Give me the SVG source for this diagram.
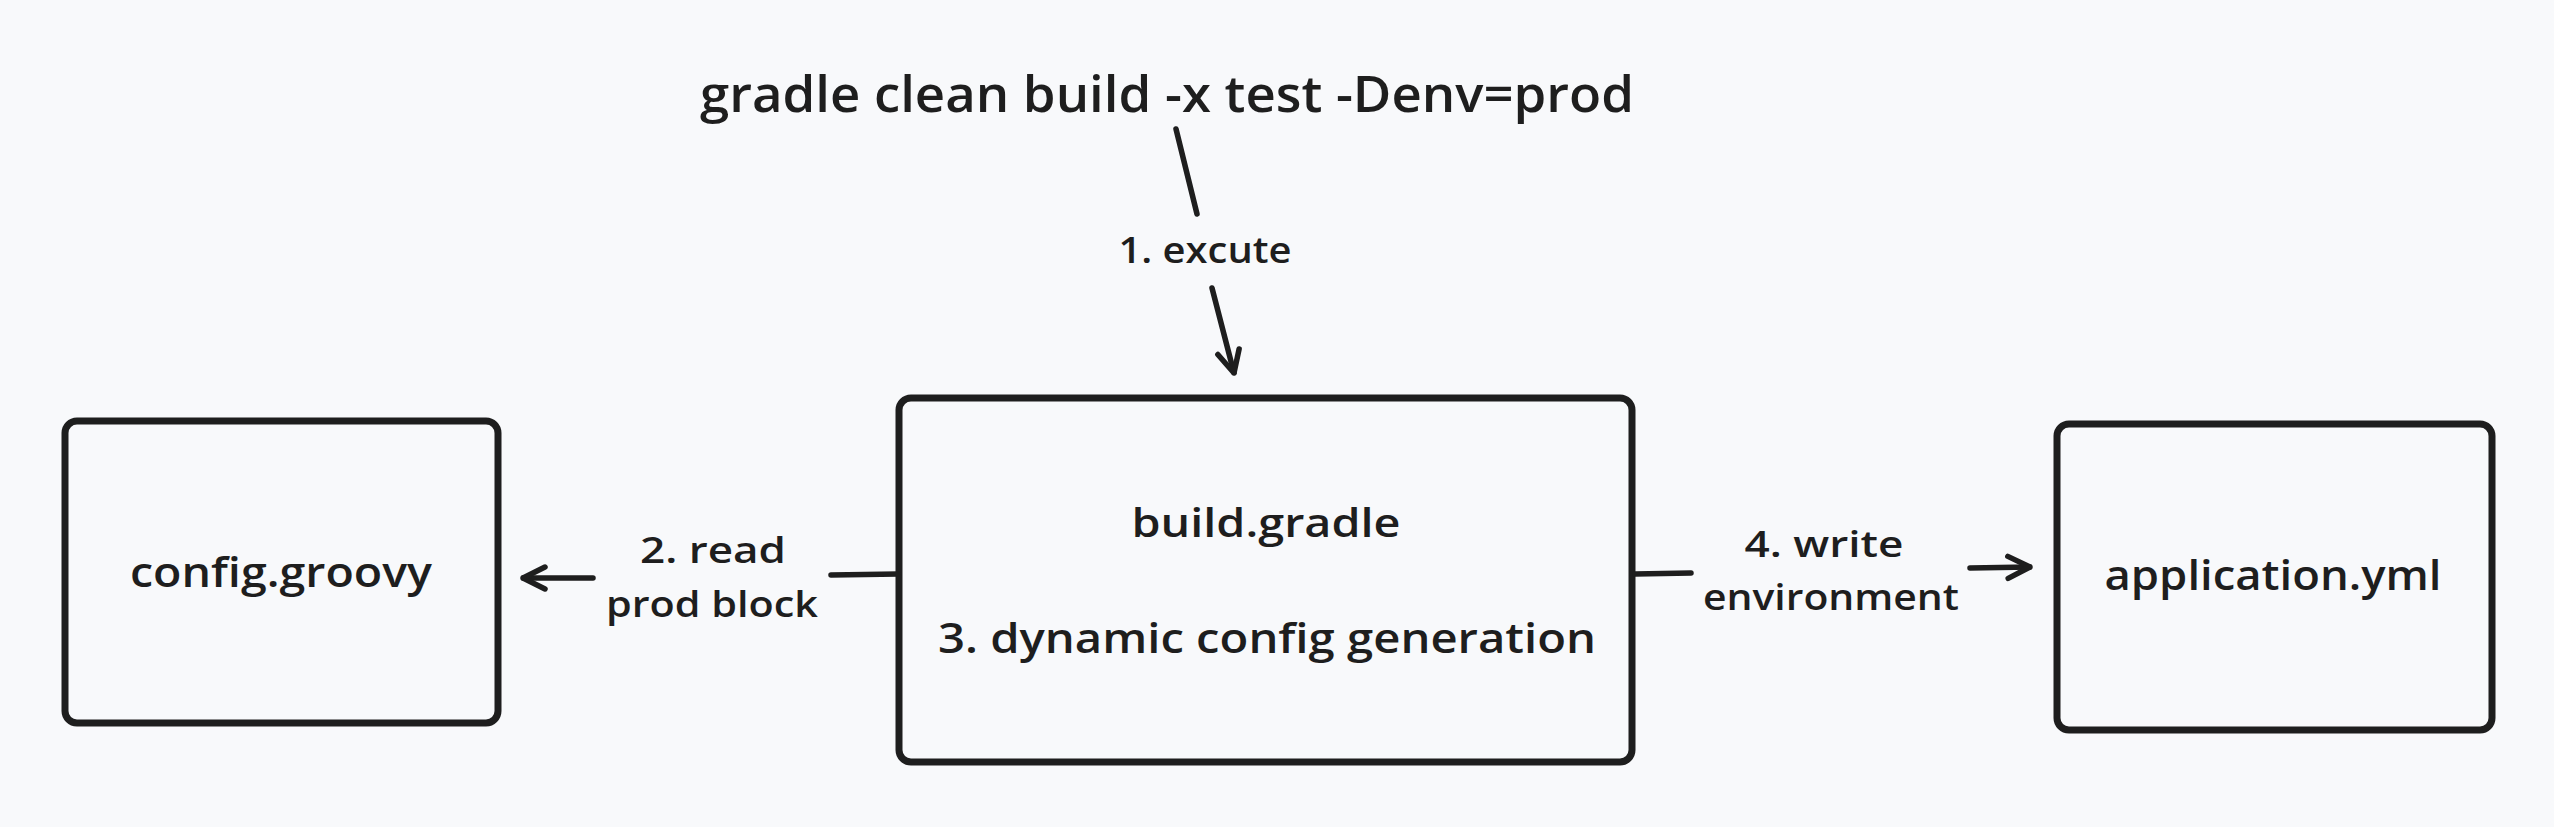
<svg xmlns="http://www.w3.org/2000/svg" width="2554" height="827" viewBox="0 0 2554 827">
<style>
.box{fill:none;stroke:#1e1e1e;stroke-width:7;stroke-linejoin:round}
.ln{fill:none;stroke:#1e1e1e;stroke-width:5.5;stroke-linecap:round}
.t{font-family:"Open Sans","Liberation Sans",sans-serif;font-weight:600;fill:#1e1e1e;text-anchor:middle}
</style>
<defs>
<marker id="ah" viewBox="-30 -15 32 30" markerWidth="32" markerHeight="30" refX="0" refY="0" orient="auto" markerUnits="userSpaceOnUse">
<path d="M-22,-11 L0,0 L-22,11" fill="none" stroke="#1e1e1e" stroke-width="5.5" stroke-linecap="round" stroke-linejoin="round"/>
</marker>
</defs>
<rect width="2554" height="827" fill="#f8f9fb"/>
<g id="cmd">
<text class="t" x="1167" y="112" font-size="50" textLength="934" lengthAdjust="spacingAndGlyphs">gradle clean build -x test -Denv=prod</text>
</g>
<g id="config">
<rect class="box" x="65" y="421" width="433" height="302" rx="12"/>
<text class="t" x="281" y="587" font-size="42" textLength="302" lengthAdjust="spacingAndGlyphs">config.groovy</text>
</g>
<g id="build">
<rect class="box" x="899" y="398" width="733" height="364" rx="12"/>
<text class="t" x="1266" y="537" font-size="40" textLength="269" lengthAdjust="spacingAndGlyphs">build.gradle</text>
<text class="t" x="1267" y="653" font-size="42" textLength="658" lengthAdjust="spacingAndGlyphs">3. dynamic config generation</text>
</g>
<g id="app">
<rect class="box" x="2057" y="424" width="435" height="306" rx="12"/>
<text class="t" x="2273" y="590" font-size="42" textLength="337" lengthAdjust="spacingAndGlyphs">application.yml</text>
</g>
<g id="connectors">
<line class="ln" x1="1176" y1="129" x2="1197" y2="214"/>
<line class="ln" x1="1212" y1="288" x2="1234" y2="373" marker-end="url(#ah)"/>
<text class="t" x="1205" y="263" font-size="36" textLength="173" lengthAdjust="spacingAndGlyphs">1. excute</text>
<line class="ln" x1="898" y1="574" x2="831" y2="575"/>
<line class="ln" x1="593" y1="578" x2="523" y2="578" marker-end="url(#ah)"/>
<text class="t" x="713" y="563" font-size="36" textLength="146" lengthAdjust="spacingAndGlyphs">2. read</text>
<text class="t" x="712" y="617" font-size="36" textLength="212" lengthAdjust="spacingAndGlyphs">prod block</text>
<line class="ln" x1="1635" y1="574" x2="1691" y2="573"/>
<line class="ln" x1="1970" y1="568" x2="2030" y2="567" marker-end="url(#ah)"/>
<text class="t" x="1824" y="557" font-size="36" textLength="159" lengthAdjust="spacingAndGlyphs">4. write</text>
<text class="t" x="1831" y="610" font-size="36" textLength="256" lengthAdjust="spacingAndGlyphs">environment</text>
</g>
</svg>
